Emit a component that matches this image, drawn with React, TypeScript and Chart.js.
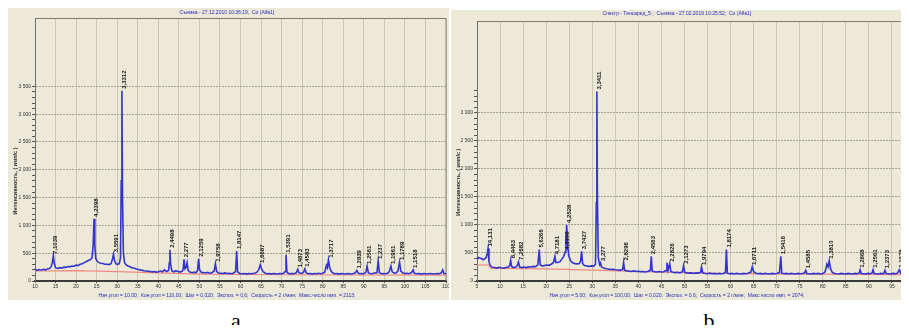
import React, { useEffect, useRef } from "react";
import { Chart, registerables } from "chart.js";

Chart.register(...registerables);

const FONT = "'Liberation Sans', Arial, sans-serif";

// ---------------- Panel a ----------------
const aTitle = "Съемка - 27.12.2010 10:36:19,  Co (Alfa1)";
const aFooter =
  "Нач.угол = 10,00;  Кон.угол = 110,00;  Шаг = 0,020;  Экспоз. = 0,6;  Скорость = 2 г/мин;  Макс.число имп. = 2113;";
const aXTicks = [10, 15, 20, 25, 30, 35, 40, 45, 50, 55, 60, 65, 70, 75, 80, 85, 90, 95, 100, 105, 110];
const aYMajor = [0, 500, 1000, 1500, 2000, 2500, 3000, 3500];
const aSpectrum: [number, number][] = [
  [10, 215], [10.5, 190], [11, 205], [11.5, 195], [12, 210], [12.5, 200], [13, 215], [13.5, 225],
  [13.9, 250], [14.2, 330], [14.46, 450], [14.7, 310], [15, 240], [15.5, 225], [16, 240], [16.5, 230],
  [17, 250], [17.5, 245], [18, 260], [18.5, 255], [19, 270], [19.5, 265], [20, 285], [20.5, 280],
  [21, 300], [21.5, 310], [22, 330], [22.5, 350], [23, 370], [23.5, 385], [23.9, 420], [24.15, 650],
  [24.36, 1120], [24.55, 640], [24.8, 400], [25.2, 350], [25.6, 330], [26, 320], [26.5, 315], [27, 300],
  [27.5, 300], [28, 295], [28.5, 310], [28.8, 380], [29.1, 480], [29.35, 370], [29.7, 310], [30.1, 300],
  [30.5, 310], [30.8, 420], [30.98, 1800], [31.15, 3420], [31.3, 1500], [31.5, 500], [31.8, 330], [32.2, 290],
  [32.6, 270], [33, 260], [33.5, 240], [34, 235], [34.5, 220], [35, 210], [35.5, 200], [36, 195],
  [36.5, 185], [37, 180], [37.5, 175], [38, 170], [38.5, 165], [39, 170], [39.5, 160], [40, 165],
  [40.5, 180], [41, 165], [41.5, 200], [42, 170], [42.5, 190], [42.7, 330], [42.83, 560], [43, 300],
  [43.3, 180], [43.8, 165], [44.3, 185], [44.8, 170], [45.3, 160], [45.8, 175], [46.05, 210], [46.26, 390],
  [46.5, 220], [46.8, 250], [47, 330], [47.25, 190], [47.7, 160], [48.2, 150], [48.7, 160], [49.2, 150],
  [49.55, 190], [49.8, 400], [50.05, 200], [50.5, 155], [51, 150], [51.5, 145], [52, 155], [52.5, 140],
  [53, 150], [53.6, 180], [53.9, 310], [54.2, 170], [54.7, 145], [55.2, 140], [55.7, 135], [56.2, 145],
  [56.7, 135], [57.2, 140], [57.7, 130], [58.2, 140], [58.8, 170], [59.07, 540], [59.3, 165], [59.8, 135],
  [60.5, 130], [61, 135], [61.5, 125], [62, 135], [62.5, 130], [63, 135], [63.5, 140], [64, 160],
  [64.4, 200], [64.8, 290], [65.1, 220], [65.5, 170], [66, 140], [66.5, 130], [67, 135], [67.5, 125],
  [68, 135], [68.5, 130], [69, 125], [69.5, 135], [70, 130], [70.5, 140], [70.85, 170], [71.07, 470],
  [71.3, 155], [71.8, 130], [72.5, 135], [73, 130], [73.6, 150], [73.94, 210], [74.2, 150], [74.7, 135],
  [75.3, 150], [75.67, 220], [76, 145], [76.5, 130], [77, 135], [77.5, 125], [78, 135], [78.5, 130],
  [79, 140], [79.5, 130], [80, 140], [80.5, 160], [80.9, 280], [81.15, 240], [81.4, 380], [81.7, 240],
  [82.1, 170], [82.6, 140], [83, 130], [83.5, 135], [84, 125], [84.5, 135], [85, 130], [85.5, 125],
  [86, 135], [86.5, 130], [87, 125], [87.5, 135], [88, 150], [88.3, 190], [88.6, 145], [89, 130],
  [89.5, 135], [90, 130], [90.5, 155], [90.8, 270], [91.1, 150], [91.5, 135], [92, 130], [92.6, 145],
  [93.2, 150], [93.5, 360], [93.8, 150], [94.3, 130], [94.8, 135], [95.3, 130], [95.8, 140], [96.2, 170],
  [96.6, 270], [96.9, 165], [97.4, 140], [97.9, 150], [98.3, 180], [98.7, 340], [99, 180], [99.5, 145],
  [100, 135], [100.5, 140], [101, 130], [101.6, 150], [102, 200], [102.3, 140], [102.8, 130], [103.5, 135],
  [104, 125], [104.5, 135], [105, 130], [105.5, 125], [106, 135], [106.5, 130], [107, 125], [107.5, 130],
  [108, 135], [108.5, 130], [108.9, 150], [109.2, 200], [109.5, 135], [110, 130],
];
const aBackground: [number, number][] = [
  [10, 180], [20, 185], [30, 170], [40, 145], [50, 125], [70, 112], [110, 105],
];
const aPeakTheta = [14.46, 24.36, 29.1, 31.15, 42.83, 46.26, 49.8, 53.9, 59.07, 64.8, 71.07, 73.94, 75.67, 81.4, 88.3, 90.8, 93.5, 96.6, 98.7, 102];
const aPeakCounts = [450, 1120, 480, 3420, 560, 390, 400, 310, 540, 290, 470, 210, 220, 380, 190, 270, 360, 270, 340, 200];
const aPeakLabels = [
  "7,1039", "4,2398", "3,5591", "3,3312", "2,4498", "2,277", "2,1259", "1,9758", "1,8147", "1,6687",
  "1,5391", "1,4873", "1,4583", "1,3717", "1,2839", "1,2561", "1,237", "1,1961", "1,1789", "1,1518",
];

// ---------------- Panel b ----------------
const bTitle = "Спектр - Тенсаред_5 ;  Съемка - 27.02.2019 10:25:52;  Co (Alfa1)";
const bFooter =
  "Нач.угол = 5,00;  Кон.угол = 100,00;  Шаг = 0,020;  Экспоз. = 0,6;  Скорость = 2 г/мин;  Макс.число имп. = 2074;";
const bXTicks = [5, 10, 15, 20, 25, 30, 35, 40, 45, 50, 55, 60, 65, 70, 75, 80, 85, 90, 95];
const bYMajor = [0, 500, 1000, 1500, 2000, 2500, 3000];
const bSpectrum: [number, number][] = [
  [5, 380], [5.3, 420], [5.6, 410], [6, 400], [6.3, 380], [6.6, 390], [7, 420], [7.25, 500],
  [7.4, 580], [7.6, 340], [7.9, 270], [8.3, 245], [8.8, 240], [9.3, 230], [9.8, 245], [10.3, 235],
  [10.8, 230], [11.3, 240], [11.8, 250], [12.1, 280], [12.3, 370], [12.5, 260], [12.9, 240], [13.4, 250],
  [13.75, 275], [14, 340], [14.25, 250], [14.7, 240], [15.2, 250], [15.7, 240], [16.2, 255], [16.7, 250],
  [17.2, 260], [17.7, 255], [18.2, 290], [18.5, 560], [18.7, 290], [19.1, 270], [19.6, 275], [20.1, 285],
  [20.6, 280], [21.1, 300], [21.6, 330], [21.9, 440], [22.1, 330], [22.5, 330], [23, 345], [23.4, 390],
  [23.8, 440], [24.15, 520], [24.3, 700], [24.45, 1000], [24.65, 650], [24.9, 450], [25.3, 360], [25.8, 320],
  [26.3, 310], [26.8, 305], [27.2, 310], [27.45, 350], [27.7, 530], [27.9, 310], [28.3, 275], [28.8, 270],
  [29.3, 260], [29.8, 270], [30.3, 265], [30.7, 300], [30.88, 1400], [31, 3380], [31.12, 1500], [31.3, 420],
  [31.6, 290], [31.8, 320], [32, 250], [32.5, 230], [33, 220], [33.5, 215], [34, 205], [34.5, 210],
  [35, 200], [35.5, 195], [36, 190], [36.6, 210], [36.8, 330], [37, 195], [37.5, 180], [38, 175],
  [38.5, 170], [39, 180], [39.5, 170], [40, 175], [40.5, 165], [41, 170], [41.5, 160], [42, 170],
  [42.6, 190], [42.8, 440], [43, 180], [43.5, 165], [44, 160], [44.5, 170], [45, 160], [45.5, 165],
  [46, 185], [46.2, 330], [46.45, 190], [46.8, 310], [47.05, 170], [47.5, 155], [48, 150], [48.5, 155],
  [49, 145], [49.55, 165], [49.8, 270], [50.05, 155], [50.5, 145], [51, 140], [51.5, 145], [52, 135],
  [52.5, 145], [53, 140], [53.5, 155], [53.7, 250], [53.95, 145], [54.5, 135], [55, 130], [55.5, 140],
  [56, 130], [56.5, 135], [57, 125], [57.5, 135], [58, 130], [58.5, 135], [58.9, 160], [59.1, 560],
  [59.3, 140], [59.8, 130], [60.3, 135], [60.8, 125], [61.3, 135], [61.8, 130], [62.3, 125], [62.8, 135],
  [63.3, 130], [63.8, 140], [64.4, 160], [64.7, 250], [65, 165], [65.5, 140], [66, 130], [66.5, 135],
  [67, 125], [67.5, 135], [68, 130], [68.5, 125], [69, 135], [69.5, 130], [70, 135], [70.6, 150],
  [70.9, 440], [71.1, 140], [71.6, 130], [72.1, 135], [72.6, 125], [73.1, 135], [73.6, 130], [74.1, 125],
  [74.6, 135], [75.1, 130], [75.6, 135], [76.05, 145], [76.3, 190], [76.55, 135], [77, 130], [77.5, 125],
  [78, 135], [78.5, 130], [79, 135], [79.5, 125], [80, 135], [80.5, 160], [80.9, 300], [81.15, 250],
  [81.4, 360], [81.7, 210], [82.1, 150], [82.6, 135], [83, 130], [83.5, 125], [84, 135], [84.5, 130],
  [85, 125], [85.5, 135], [86, 130], [86.5, 125], [87, 135], [87.5, 130], [87.9, 145], [88.1, 200],
  [88.35, 135], [88.8, 130], [89.3, 125], [89.8, 135], [90.3, 130], [90.7, 145], [90.9, 200], [91.15, 135],
  [91.6, 130], [92.1, 125], [92.6, 135], [93.1, 130], [93.3, 145], [93.5, 190], [93.75, 135], [94.2, 130],
  [94.7, 125], [95.2, 135], [95.7, 130], [96.2, 140], [96.6, 200], [96.9, 140], [97.3, 135], [97.6, 130],
];
const bBackground: [number, number][] = [
  [5, 290], [7.5, 285], [8, 225], [20, 215], [30, 195], [45, 160], [60, 130], [97.6, 115],
];
const bPeakTheta = [7.4, 12.3, 14, 18.5, 21.9, 24.15, 24.45, 27.7, 31, 31.8, 36.8, 42.8, 46.8, 49.8, 53.7, 59.1, 64.7, 70.9, 76.3, 81.4, 88.1, 90.9, 93.5, 96.6];
const bPeakCounts = [580, 370, 340, 560, 440, 520, 1000, 530, 3380, 320, 330, 440, 310, 270, 250, 560, 250, 440, 190, 360, 200, 200, 190, 200];
const bPeakLabels = [
  "14,131", "8,4463", "7,2682", "5,6266", "4,7181", "4,3108", "4,2528", "3,7427", "3,3411", "3,277",
  "2,8296", "2,4563", "2,2826", "2,1273", "1,9794", "1,8174", "1,6711", "1,5416", "1,4585", "1,3810",
  "1,2868", "1,2561", "1,2373", "1,1978",
];

const Y_TITLE = "Интенсивность, ( имп/с )";

function fmtThousands(v: number): string {
  if (v < 1000) return String(v);
  const th = Math.floor(v / 1000);
  const rest = String(v % 1000).padStart(3, "0");
  return th + " " + rest;
}

type PanelProps = {
  width: number;
  height: number;
  title: string;
  footer: string;
  xMin: number;
  xMax: number;
  xTicks: number[];
  yMax: number;
  yMajor: number[];
  yMinorTop: number;
  yMinorStep: number;
  spectrum: [number, number][];
  background: [number, number][];
  peakTheta: number[];
  peakCounts: number[];
  peakLabels: string[];
  yAxisWidth: number;
  padRight: number;
  titlePadTop: number;
  titlePadBottom: number;
  rightBorderWidth: number;
};

function XrdPanel(p: PanelProps) {
  const ref = useRef<HTMLCanvasElement | null>(null);

  useEffect(() => {
    if (!ref.current) return;
    const majorSet = new Set(p.yMajor);

    const framePlugin = {
      id: "frame",
      beforeDatasetsDraw(chart: any) {
        const { ctx, chartArea } = chart;
        ctx.save();
        ctx.strokeStyle = "#7d7b70";
        ctx.lineWidth = 1;
        ctx.beginPath();
        ctx.moveTo(chartArea.left, chartArea.top + 0.5);
        ctx.lineTo(chartArea.right, chartArea.top + 0.5);
        ctx.stroke();
        ctx.lineWidth = p.rightBorderWidth;
        ctx.strokeStyle = "#86847a";
        ctx.beginPath();
        ctx.moveTo(chartArea.right, chartArea.top);
        ctx.lineTo(chartArea.right, chartArea.bottom);
        ctx.stroke();
        ctx.restore();
      },
    };

    const labelPlugin = {
      id: "peakLabels",
      afterDatasetsDraw(chart: any) {
        const { ctx, scales } = chart;
        const xs = scales.x;
        const ys = scales.y;
        ctx.save();
        ctx.font = `bold 6px ${FONT}`;
        ctx.fillStyle = "#151515";
        ctx.textAlign = "left";
        ctx.textBaseline = "top";
        p.peakTheta.forEach((t, i) => {
          const px = xs.getPixelForValue(t);
          const py = ys.getPixelForValue(p.peakCounts[i]);
          ctx.save();
          ctx.translate(px - 0.5, py - 2);
          ctx.rotate(-Math.PI / 2);
          ctx.fillText(p.peakLabels[i], 0, 0);
          ctx.restore();
        });
        ctx.restore();
      },
    };

    const yTitlePlugin = {
      id: "yTitle",
      afterDraw(chart: any) {
        const { ctx, chartArea } = chart;
        ctx.save();
        ctx.font = `bold 5.5px ${FONT}`;
        ctx.fillStyle = "#2a2a2a";
        ctx.textAlign = "center";
        ctx.textBaseline = "middle";
        ctx.translate(7, chartArea.top + 0.62 * (chartArea.bottom - chartArea.top));
        ctx.rotate(-Math.PI / 2);
        ctx.fillText(Y_TITLE, 0, 0);
        ctx.restore();
      },
    };

    const chart = new Chart(ref.current, {
      type: "line",
      data: {
        datasets: [
          {
            data: p.spectrum.map(([x, y]) => ({ x, y })),
            borderColor: "#3434cc",
            borderWidth: 1.6,
            pointRadius: 0,
            tension: 0,
          },
          {
            data: p.background.map(([x, y]) => ({ x, y })),
            borderColor: "#f08a80",
            borderWidth: 1.2,
            pointRadius: 0,
            tension: 0,
          },
        ],
      },
      options: {
        animation: false,
        responsive: false,
        devicePixelRatio: 1,
        events: [],
        layout: { padding: { left: 0, right: p.padRight, top: 0, bottom: 0 } },
        plugins: {
          legend: { display: false },
          tooltip: { enabled: false },
          title: {
            display: true,
            text: p.title,
            color: "#2b2bb8",
            font: { size: 5, family: FONT, weight: "normal" },
            padding: { top: p.titlePadTop, bottom: p.titlePadBottom },
          },
          subtitle: {
            display: true,
            position: "bottom",
            text: p.footer,
            color: "#2b2bb8",
            font: { size: 5, family: FONT },
            padding: { top: 1, bottom: 1 },
          },
        },
        scales: {
          x: {
            type: "linear",
            min: p.xMin,
            max: p.xMax,
            afterBuildTicks: (s: any) => {
              s.ticks = p.xTicks.map((v) => ({ value: v }));
            },
            afterFit: (s: any) => {
              s.height = 11;
              s.paddingLeft = 0;
              s.paddingRight = 0;
            },
            ticks: {
              autoSkip: false,
              maxRotation: 0,
              minRotation: 0,
              padding: 1,
              color: "#333",
              font: { size: 5, family: FONT },
              callback: (v: any) => String(v),
            },
            grid: { color: "#cbc7b1", tickColor: "#555", tickLength: 2, lineWidth: 1 },
            border: { color: "#3a3a3a", width: 2 },
          },
          y: {
            type: "linear",
            min: 0,
            max: p.yMax,
            afterBuildTicks: (s: any) => {
              const t: { value: number }[] = [];
              for (let v = 0; v <= p.yMinorTop; v += p.yMinorStep) t.push({ value: v });
              s.ticks = t;
            },
            afterFit: (s: any) => {
              s.width = p.yAxisWidth;
              s.paddingTop = 0;
              s.paddingBottom = 0;
            },
            ticks: {
              autoSkip: false,
              padding: 1,
              color: "#333",
              font: { size: 5, family: FONT },
              callback: (v: any) => (majorSet.has(v) ? fmtThousands(v) : ""),
            },
            grid: {
              color: (c: any) =>
                c.tick && majorSet.has(c.tick.value) && c.tick.value > 0 ? "#a5a18c" : "rgba(0,0,0,0)",
              tickColor: "#555",
              tickLength: 3,
              lineWidth: 1,
            },
            border: { color: "#6e6e6e", width: 1, dash: [2, 1] },
          },
        },
      },
      plugins: [framePlugin, labelPlugin, yTitlePlugin],
    } as any);

    return () => chart.destroy();
  }, []);

  return (
    <canvas
      ref={ref}
      width={p.width}
      height={p.height}
      style={{ width: p.width, height: p.height, display: "block" }}
    />
  );
}

const letterStyle: React.CSSProperties = {
  position: "absolute",
  width: 40,
  height: 0,
  textAlign: "center",
  font: "22px 'Liberation Serif', 'Times New Roman', serif",
  lineHeight: "0px",
  color: "#000",
  overflow: "visible",
};

export default function App() {
  useEffect(() => {
    document.documentElement.style.overflow = "hidden";
    document.body.style.overflow = "hidden";
  }, []);

  return (
    <div style={{ position: "relative", width: 893, height: 317, background: "#fff" }}>
      <div style={{ position: "absolute", left: 0, top: 0, width: 441, height: 292, background: "#ece9d8" }}>
        <XrdPanel
          width={441}
          height={292}
          title={aTitle}
          footer={aFooter}
          xMin={10}
          xMax={110}
          xTicks={aXTicks}
          yMax={4730}
          yMajor={aYMajor}
          yMinorTop={3500}
          yMinorStep={100}
          spectrum={aSpectrum}
          background={aBackground}
          peakTheta={aPeakTheta}
          peakCounts={aPeakCounts}
          peakLabels={aPeakLabels}
          yAxisWidth={27}
          padRight={3}
          titlePadTop={2}
          titlePadBottom={2}
          rightBorderWidth={1}
        />
      </div>
      <div style={{ position: "absolute", left: 443, top: 2, width: 458, height: 290, background: "#ece9d8" }}>
        <XrdPanel
          width={458}
          height={290}
          title={bTitle}
          footer={bFooter}
          xMin={5}
          xMax={97.4}
          xTicks={bXTicks}
          yMax={4640}
          yMajor={bYMajor}
          yMinorTop={3400}
          yMinorStep={100}
          spectrum={bSpectrum}
          background={bBackground}
          peakTheta={bPeakTheta}
          peakCounts={bPeakCounts}
          peakLabels={bPeakLabels}
          yAxisWidth={26}
          padRight={6}
          titlePadTop={1}
          titlePadBottom={4}
          rightBorderWidth={2}
        />
      </div>
      <div style={{ ...letterStyle, left: 208, top: 313 }}>a</div>
      <div style={{ ...letterStyle, left: 681, top: 313 }}>b</div>
    </div>
  );
}
